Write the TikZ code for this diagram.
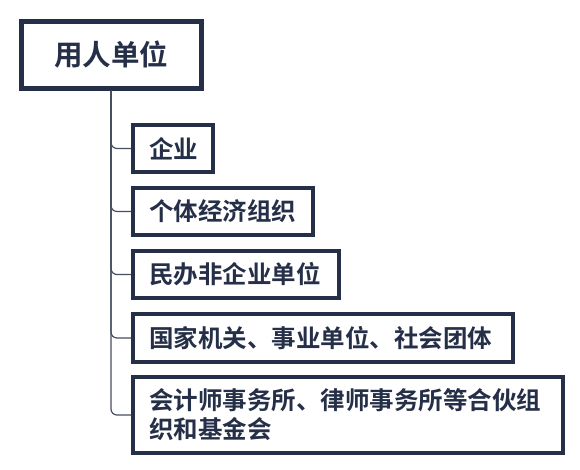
\documentclass[tikz,border=0pt]{standalone}
\usepackage{fontspec}
\newfontfamily\cjk{Noto Sans CJK SC}[BoldFont={* Bold}]
\definecolor{navy}{RGB}{37,48,72}
\definecolor{linec}{RGB}{70,78,96}
\begin{document}
\begin{tikzpicture}[x=1pt,y=-1pt,
  rootbox/.style={draw=navy,line width=5pt,inner sep=0pt,anchor=north west,
    minimum width=180pt,minimum height=67pt,text=navy,
    font=\cjk\bfseries\fontsize{28.5}{34}\selectfont},
  cbox/.style={draw=navy,line width=4pt,inner xsep=16pt,inner ysep=0pt,anchor=north west,
    minimum height=47pt,text=navy,align=left,
    font=\cjk\bfseries\fontsize{24.5}{29}\selectfont},
  conn/.style={draw=linec,line width=1.2pt,rounded corners=6pt}]
\useasboundingbox (0,0) rectangle (580,469);
\fill[white] (0,0) rectangle (580,469);
\node[rootbox] (root) at (18.5,18.5) {用人单位};
\node[cbox,text width=48pt] (c1) at (131,123) {企业};
\node[cbox,text width=148pt] (c2) at (131,186) {个体经济组织};
\node[cbox,text width=174pt] (c3) at (131,249) {民办非企业单位};
\node[cbox,text width=348pt,minimum height=48pt] (c4) at (131,312) {国家机关、事业单位、社会团体};
\node[cbox,text width=398pt,minimum height=76pt] (c5) at (131,375) {会计师事务所、律师事务所等合伙组\\织和基金会};
\foreach \c in {c1,c2,c3,c4,c5}
  \draw[conn] (root.south) |- (\c.west);
\end{tikzpicture}
\end{document}
